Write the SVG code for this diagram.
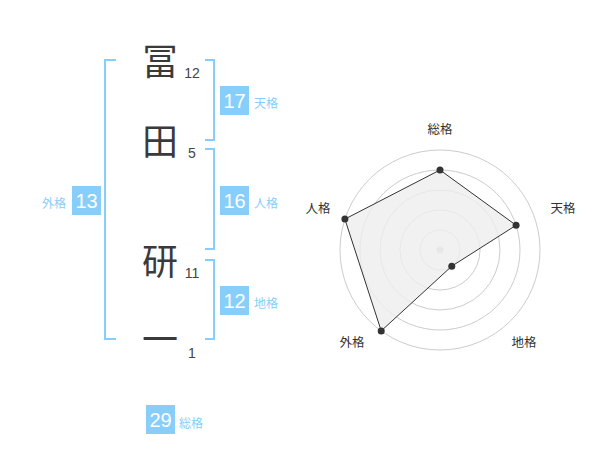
<svg xmlns="http://www.w3.org/2000/svg" width="600" height="470" viewBox="0 0 600 470">
<style>
text{font-family:"Liberation Sans","Noto Sans CJK JP",sans-serif}
.ch{font-family:"Noto Sans CJK JP",sans-serif;font-size:36px;fill:#3a3a3a;text-anchor:middle}
.st{font-size:14px;fill:#444;text-anchor:middle}
.br{fill:none;stroke:#87cefa;stroke-width:2}
.box{fill:#87cefa}
.num{font-size:20px;fill:#fff;text-anchor:middle}
.lb{font-size:12px;fill:#87cefa}
.rl{font-size:12.5px;fill:#333;text-anchor:middle}
.ring{fill:none;stroke:#ccc;stroke-width:1}
.dot{fill:#333}
</style>
<rect width="600" height="470" fill="#fff"/>
<g id="chars">
<g id="c1"><text class="ch" x="160" y="75">冨</text><text class="st" x="192" y="78">12</text></g>
<g id="c2"><text class="ch" x="160" y="155">田</text><text class="st" x="192" y="158">5</text></g>
<g id="c3"><text class="ch" x="160" y="275">研</text><text class="st" x="192" y="278">11</text></g>
<g id="c4"><text class="ch" x="160" y="353">一</text><text class="st" x="192" y="358">1</text></g>
</g>
<g id="connectors">
<polyline class="br" points="116,60 105,60 105,339 116,339"/>
<polyline class="br" points="205,60 214,60 214,140 205,140"/>
<polyline class="br" points="205,149 214,149 214,249 205,249"/>
<polyline class="br" points="205,260 214,260 214,339 205,339"/>
</g>
<g id="tenkaku"><rect class="box" x="220" y="86" width="29" height="29"/><text class="num" x="234.5" y="107.5">17</text><text class="lb" x="254" y="108">天格</text></g>
<g id="jinkaku"><rect class="box" x="220" y="186" width="29" height="29"/><text class="num" x="234.5" y="207.5">16</text><text class="lb" x="254" y="208">人格</text></g>
<g id="chikaku"><rect class="box" x="220" y="286" width="29" height="29"/><text class="num" x="234.5" y="307.5">12</text><text class="lb" x="254" y="308">地格</text></g>
<g id="gaikaku"><rect class="box" x="72" y="186" width="29" height="29"/><text class="num" x="86.5" y="207.5">13</text><text class="lb" x="66" y="208" text-anchor="end">外格</text></g>
<g id="soukaku"><rect class="box" x="146" y="405" width="29" height="29"/><text class="num" x="160.5" y="426.5">29</text><text class="lb" x="179" y="428">総格</text></g>
<g id="radar">
<circle class="ring" cx="440" cy="250" r="20"/>
<circle class="ring" cx="440" cy="250" r="40"/>
<circle class="ring" cx="440" cy="250" r="60"/>
<circle class="ring" cx="440" cy="250" r="80"/>
<circle class="ring" cx="440" cy="250" r="100"/>
<circle cx="440" cy="250" r="3.5" fill="#ccc"/>
<polygon points="440,170 516.08,225.28 451.76,266.18 381.22,330.9 344.89,219.1" fill="#eee" fill-opacity="0.8" stroke="#333" stroke-width="1"/>
<circle class="dot" cx="440" cy="170" r="3.5"/>
<circle class="dot" cx="516.08" cy="225.28" r="3.5"/>
<circle class="dot" cx="451.76" cy="266.18" r="3.5"/>
<circle class="dot" cx="381.22" cy="330.9" r="3.5"/>
<circle class="dot" cx="344.89" cy="219.1" r="3.5"/>
<text class="rl" x="440" y="134">総格</text>
<text class="rl" x="563" y="213">天格</text>
<text class="rl" x="524" y="347">地格</text>
<text class="rl" x="352" y="347">外格</text>
<text class="rl" x="318" y="213">人格</text>
</g>
</svg>
